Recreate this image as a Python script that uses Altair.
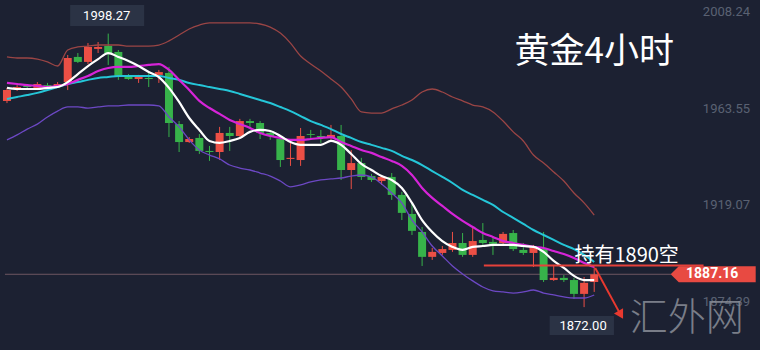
import altair as alt
import pandas as pd

# ---- candle data (4h gold) ----
opens = [1967.2, 1972.7, 1974.1, 1973.2, 1974.5, 1974.1, 1975.9, 1987.5, 1985.2, 1991.2,
         1992.6, 1989.8, 1978.7, 1977.3, 1977.8, 1979.2, 1980.1, 1956.5, 1948.2, 1950.1,
         1944.1, 1943.6, 1952.4, 1951.0, 1957.9, 1957.0, 1952.4, 1949.6, 1940.4, 1939.9,
         1951.9, 1951.0, 1950.1, 1951.0, 1935.3, 1938.5, 1932.5, 1930.2, 1932.1, 1923.8,
         1915.0, 1906.7, 1895.2, 1897.0, 1898.4, 1901.6, 1896.1, 1903.0, 1902.1, 1901.6,
         1906.2, 1898.4, 1897.0, 1898.8, 1884.5, 1885.5, 1884.5, 1878.1, 1883.6]
highs = [1973.2, 1974.5, 1975.0, 1975.9, 1975.5, 1975.9, 1988.4, 1989.3, 1993.9, 1994.4,
         1998.27, 1990.7, 1979.6, 1979.2, 1980.1, 1981.5, 1982.9, 1957.9, 1950.5, 1951.9,
         1946.4, 1955.2, 1955.2, 1958.9, 1958.9, 1957.9, 1953.8, 1950.1, 1947.8, 1954.7,
         1953.8, 1953.8, 1956.1, 1956.1, 1944.5, 1940.9, 1933.5, 1933.0, 1933.9, 1925.2,
         1920.1, 1909.0, 1899.3, 1900.2, 1906.7, 1906.2, 1909.0, 1910.8, 1904.4, 1906.7,
         1907.6, 1901.6, 1900.7, 1906.7, 1891.5, 1886.8, 1885.5, 1885.9, 1890.5]
lows = [1966.2, 1971.8, 1972.7, 1972.2, 1973.2, 1973.2, 1972.2, 1984.7, 1984.2, 1989.3,
        1983.8, 1976.9, 1976.9, 1975.5, 1973.6, 1975.5, 1950.5, 1943.6, 1947.8, 1942.7,
        1939.5, 1939.9, 1944.1, 1950.5, 1954.7, 1949.6, 1949.2, 1936.7, 1937.2, 1937.2,
        1950.1, 1947.8, 1949.2, 1930.7, 1926.5, 1930.7, 1929.8, 1928.4, 1921.5, 1912.2,
        1905.3, 1891.0, 1893.8, 1896.1, 1897.5, 1895.2, 1895.2, 1900.7, 1896.1, 1900.7,
        1897.9, 1896.1, 1890.5, 1883.6, 1884.1, 1883.6, 1875.8, 1872.0, 1879.0]
closes = [1972.2, 1973.6, 1973.6, 1975.0, 1974.1, 1975.0, 1987.0, 1985.2, 1992.1, 1992.1,
          1989.3, 1978.7, 1977.3, 1978.7, 1977.3, 1980.5, 1957.0, 1948.2, 1949.6, 1944.1,
          1943.6, 1952.4, 1951.0, 1957.9, 1957.0, 1952.4, 1951.0, 1939.9, 1940.9, 1951.0,
          1951.5, 1950.5, 1951.5, 1935.3, 1938.5, 1932.1, 1930.7, 1932.1, 1923.8, 1915.5,
          1907.2, 1895.2, 1897.5, 1898.8, 1901.6, 1896.1, 1902.5, 1901.6, 1901.2, 1905.8,
          1898.8, 1897.0, 1899.8, 1884.5, 1885.5, 1884.5, 1878.1, 1883.2, 1887.16]

# ---- indicator lines ----
ma_white = [1973.2, 1972.7, 1972.7, 1972.7, 1973.2, 1973.6, 1975.9, 1979.6, 1983.3, 1986.5,
            1989.3, 1987.5, 1985.6, 1983.3, 1980.5, 1978.2, 1973.2, 1966.7, 1959.3, 1953.8,
            1948.7, 1947.8, 1948.7, 1950.1, 1952.9, 1953.8, 1953.3, 1951.0, 1948.2, 1946.9,
            1946.9, 1946.9, 1948.7, 1946.9, 1942.7, 1938.1, 1935.3, 1932.5, 1930.7, 1927.0,
            1920.1, 1912.2, 1906.7, 1902.5, 1899.8, 1898.4, 1899.8, 1900.2, 1900.7, 1900.7,
            1900.7, 1900.2, 1899.8, 1897.5, 1893.3, 1890.1, 1886.4, 1884.5, 1884.5]
ma_magenta = [1975.5, 1975.0, 1974.5, 1974.1, 1973.6, 1974.1, 1975.0, 1976.9, 1978.7, 1981.0,
              1982.4, 1982.9, 1982.9, 1983.3, 1983.8, 1984.2, 1981.5, 1976.9, 1972.2, 1967.2,
              1963.9, 1961.2, 1958.4, 1956.5, 1954.7, 1952.4, 1951.0, 1950.1, 1949.2, 1949.2,
              1949.6, 1950.1, 1950.5, 1948.2, 1946.4, 1944.5, 1943.2, 1941.3, 1939.5, 1937.2,
              1933.0, 1927.0, 1922.4, 1918.7, 1915.0, 1911.8, 1909.0, 1906.2, 1904.4, 1902.5,
              1901.6, 1900.7, 1899.8, 1899.3, 1897.9, 1896.5, 1894.7, 1892.4, 1890.5]
ma_cyan = [1968.1, 1969.0, 1969.9, 1970.9, 1972.2, 1973.6, 1975.0, 1975.9, 1976.9, 1977.8,
           1978.2, 1978.7, 1978.7, 1978.7, 1978.7, 1978.7, 1977.8, 1976.9, 1975.5, 1974.5,
           1973.6, 1972.7, 1971.8, 1970.4, 1969.0, 1967.6, 1966.2, 1964.4, 1962.5, 1960.2,
           1957.9, 1956.1, 1954.2, 1951.9, 1950.1, 1948.2, 1946.9, 1945.5, 1944.1, 1941.8,
           1939.9, 1937.6, 1934.8, 1932.1, 1929.3, 1926.1, 1923.8, 1921.5, 1919.2, 1915.9,
           1913.2, 1910.4, 1907.6, 1905.3, 1903.0, 1900.7, 1898.8, 1896.1, 1892.8]
boll_upper = [1987.5, 1987.0, 1987.0, 1986.5, 1985.2, 1983.3, 1990.7, 1992.1, 1992.5, 1993.0,
              1993.0, 1993.0, 1992.5, 1992.5, 1992.5, 1993.0, 1994.9, 1997.6, 2000.4, 2002.2,
              2003.2, 2003.2, 2003.2, 2003.2, 2003.2, 2002.7, 2001.3, 1998.5, 1993.9, 1987.9,
              1984.2, 1981.0, 1977.3, 1973.6, 1968.1, 1962.1, 1961.6, 1961.6, 1963.5, 1965.3,
              1967.6, 1971.3, 1972.7, 1971.3, 1969.0, 1967.2, 1965.3, 1964.4, 1962.1, 1957.9,
              1952.9, 1948.7, 1942.2, 1938.5, 1934.4, 1930.2, 1924.7, 1920.1, 1914.5]
boll_lower = [1949.2, 1951.5, 1954.2, 1956.5, 1959.8, 1962.5, 1964.4, 1964.4, 1963.9, 1964.4,
              1964.9, 1964.9, 1965.3, 1965.3, 1965.3, 1964.9, 1959.8, 1955.2, 1949.2, 1944.5,
              1942.2, 1940.4, 1937.6, 1936.2, 1935.3, 1933.9, 1932.5, 1930.2, 1927.5, 1928.4,
              1929.8, 1930.7, 1931.2, 1931.6, 1932.5, 1933.0, 1932.1, 1928.8, 1924.7, 1920.1,
              1912.2, 1906.7, 1900.2, 1895.6, 1891.0, 1887.3, 1884.1, 1881.3, 1879.5, 1879.0,
              1878.5, 1879.0, 1879.9, 1878.5, 1877.6, 1876.7, 1876.2, 1876.2, 1877.6]

# ---- labels ----
axis_ticks = [2008.24, 1963.55, 1919.07, 1874.39]
last_price = 1887.16
hold_price = 1891.2
hold_text = "持有1890空"
title_text = "黄金4小时"
watermark = "汇外网"
high_label = 1998.27
low_label = 1872.00

BG = "#1c2132"
RED = "#ec4f45"
GREEN = "#37b34a"

n = len(opens)
df = pd.DataFrame({
    "i": list(range(n)), "open": opens, "high": highs, "low": lows, "close": closes,
    "w": ma_white, "m": ma_magenta, "c": ma_cyan, "u": boll_upper, "l": boll_lower,
})
df["dir"] = ["up" if c >= o else "down" for o, c in zip(opens, closes)]

xs = alt.Scale(domain=[-0.195, 73.88], nice=False, zero=False)
ys = alt.Scale(domain=[1852.2, 2013.78], nice=False, zero=False)


def XQ(f):
    return alt.X(f"{f}:Q", scale=xs, axis=None)


def YQ(f):
    return alt.Y(f"{f}:Q", scale=ys, axis=None)


col = alt.Color("dir:N", scale=alt.Scale(domain=["up", "down"], range=[RED, GREEN]), legend=None)

base = alt.Chart(df)

wicks = base.mark_rule(strokeWidth=1).encode(x=XQ("i"), y=YQ("low"), y2="high:Q", color=col)
bodies = base.mark_bar(size=8).encode(x=XQ("i"), y=YQ("open"), y2="close:Q", color=col)


def line(field, colour, w):
    return base.mark_line(color=colour, strokeWidth=w, interpolate="monotone").encode(
        x=XQ("i"), y=YQ(field))


lines = [line("u", "#9a4545", 1.3), line("l", "#6c48c4", 1.3), line("c", "#25c6d8", 2),
         line("m", "#d624d8", 2.2), line("w", "#ffffff", 2.2)]

# right-hand price labels
ax_df = pd.DataFrame({"x": [73.4] * len(axis_ticks), "y": axis_ticks,
                      "t": [f"{v:.2f}" for v in axis_ticks]})
ax_lbl = alt.Chart(ax_df).mark_text(align="right", baseline="middle", color="#5a6172",
                                    fontSize=13, font="Roboto").encode(
    x=XQ("x"), y=YQ("y"), text="t:N")

# thin last-price line and the red hold line
price_line = alt.Chart(pd.DataFrame({"x": [-0.2], "x2": [65.6], "y": [last_price]})).mark_rule(
    color="#6e5662", strokeWidth=1).encode(x=XQ("x"), x2="x2:Q", y=YQ("y"))
hold_line = alt.Chart(pd.DataFrame({"x": [47.1], "x2": [68.8], "y": [hold_price]})).mark_rule(
    color="#e5413a", strokeWidth=2).encode(x=XQ("x"), x2="x2:Q", y=YQ("y"))
hold_lbl = alt.Chart(pd.DataFrame({"x": [56.05], "y": [1895.6], "t": [hold_text]})).mark_text(
    align="left", baseline="middle", color="white", fontSize=20, font="Noto Sans CJK SC").encode(
    x=XQ("x"), y=YQ("y"), text="t:N")

# price tag
TAG = "M -1 0 L -0.81 -0.19 L 1 -0.19 L 1 0.19 L -0.81 0.19 Z"
tag_df = pd.DataFrame({"x": [69.75], "y": [last_price], "t": [f"{last_price:.2f}"]})
tag = alt.Chart(tag_df).mark_point(shape=TAG, size=7225, filled=True, color="#e84a42",
                                   opacity=1, strokeWidth=0).encode(x=XQ("x"), y=YQ("y"))
tag_txt = alt.Chart(tag_df).mark_text(color="white", fontSize=14, fontWeight="bold",
                                      font="Roboto", baseline="middle", dx=-1).encode(
    x=XQ("x"), y=YQ("y"), text="t:N")

# high / low boxes
box_df = pd.DataFrame({
    "x": [6.24, 53.6], "x2": [13.55, 59.95], "y": [2011.5, 1867.9], "y2": [2001.8, 1859.1],
    "tx": [9.85, 56.9], "ty": [2006.5, 1863.4], "t": [f"{high_label:.2f}", f"{low_label:.2f}"],
})
boxes = alt.Chart(box_df).mark_rect(color="#2b3345").encode(
    x=XQ("x"), x2="x2:Q", y=YQ("y"), y2="y2:Q")
box_txt = alt.Chart(box_df).mark_text(color="white", fontSize=13, font="Roboto",
                                      baseline="middle").encode(
    x=XQ("tx"), y=YQ("ty"), text="t:N")

# red arrow
arr_df = pd.DataFrame({"x": [58.1, 60.55], "y": [1890.1, 1869.0]})
arrow = alt.Chart(arr_df).mark_line(color="#e8392f", strokeWidth=2).encode(x=XQ("x"), y=YQ("y"))
head = alt.Chart(arr_df.iloc[[1]]).mark_point(shape="triangle", angle=150, size=110, filled=True,
                                              color="#e8392f", opacity=1).encode(
    x=XQ("x"), y=YQ("y"))

# title and watermark
ann_df = pd.DataFrame({"x": [58.0, 67.15], "y": [1989.8, 1866.5], "t": [title_text, watermark]})
title = alt.Chart(ann_df.iloc[[0]]).mark_text(
    color="white", fontSize=35, font="Noto Sans CJK SC", align="center", baseline="middle").encode(
    x=XQ("x"), y=YQ("y"), text="t:N")
wm = alt.Chart(ann_df.iloc[[1]]).mark_text(
    color="#8a8e98", opacity=0.85, fontSize=38, font="Noto Sans CJK SC", fontWeight=300,
    align="center", baseline="middle").encode(x=XQ("x"), y=YQ("y"), text="t:N")

chart = alt.layer(
    price_line, wicks, bodies, *lines, ax_lbl, hold_line, hold_lbl, tag, tag_txt,
    boxes, box_txt, arrow, head, title, wm,
).properties(
    width=760, height=350, background=BG, padding=0,
    autosize=alt.AutoSizeParams(type="none"),
).configure_view(stroke=None)

chart.save("out.html", embed_options={"renderer": "svg", "actions": False})
